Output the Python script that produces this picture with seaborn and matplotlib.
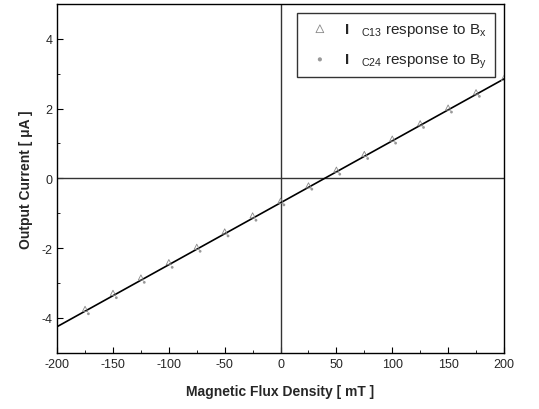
import seaborn as sns
import matplotlib.pyplot as plt
import pandas as pd
from matplotlib.ticker import MultipleLocator

# field values [mT]
field = [-175, -150, -125, -100, -75, -50, -25, 0, 25, 50, 75, 100, 125, 150, 175, 200]
# I_C13 response to Bx [uA]
i_c13 = [-3.74, -3.28, -2.84, -2.40, -1.96, -1.52, -1.06, -0.64, -0.20, 0.25, 0.70, 1.14, 1.58, 2.03, 2.47, 2.88]
# I_C24 response to By [uA]
i_c24 = [-3.88, -3.42, -2.98, -2.55, -2.09, -1.65, -1.20, -0.76, -0.31, 0.12, 0.57, 1.01, 1.46, 1.90, 2.35, 2.80]
# linear fit
fit_x = [-200, 200]
fit_y = [-4.25, 2.85]

sns.set_style("ticks")
plt.rcParams['font.family'] = ['Liberation Sans', 'DejaVu Sans']
plt.rcParams['mathtext.fontset'] = 'custom'
plt.rcParams['mathtext.rm'] = 'Liberation Sans'
plt.rcParams['mathtext.it'] = 'Liberation Sans'
plt.rcParams['mathtext.bf'] = 'Liberation Sans:bold'
plt.rcParams['axes.unicode_minus'] = False
plt.rcParams['xtick.direction'] = 'in'
plt.rcParams['ytick.direction'] = 'in'

df_x = pd.DataFrame({"B": field, "I": i_c13})
df_y = pd.DataFrame({"B": [b + 3 for b in field], "I": i_c24})
df_fit = pd.DataFrame({"B": fit_x, "I": fit_y})

fig = plt.figure(figsize=(5.39, 4.10), dpi=100)
ax = fig.add_axes([0.106, 0.137, 0.829, 0.851])

ax.axhline(0, color="#333333", lw=1.0, zorder=1)
ax.axvline(0, color="#333333", lw=1.0, zorder=1)

sns.lineplot(data=df_fit, x="B", y="I", color="black", lw=1.2, ax=ax, zorder=2)
sns.scatterplot(data=df_x, x="B", y="I", marker="^", s=14, facecolors="none",
                edgecolor="#888888", linewidth=0.6, ax=ax, zorder=3,
                label=r"$\mathbf{I}$   $_{\mathrm{C13}}$ response to B$_{\mathrm{x}}$")
sns.scatterplot(data=df_y, x="B", y="I", marker="o", s=4, color="#999999",
                edgecolor="none", ax=ax, zorder=3,
                label=r"$\mathbf{I}$   $_{\mathrm{C24}}$ response to B$_{\mathrm{y}}$")

ax.set_xlim(-200, 200)
ax.set_ylim(-5, 5)
ax.xaxis.set_major_locator(MultipleLocator(50))
ax.xaxis.set_minor_locator(MultipleLocator(25))
ax.yaxis.set_major_locator(MultipleLocator(2))
ax.yaxis.set_minor_locator(MultipleLocator(1))
ax.tick_params(which="major", length=4, labelsize=9, color="black")
ax.tick_params(which="minor", length=2.5, color="black")
for s in ax.spines.values():
    s.set_color("black")
    s.set_linewidth(1.0)

ax.set_xlabel("Magnetic Flux Density [ mT ]", fontsize=10, fontweight="bold", labelpad=10)
ax.set_ylabel("Output Current [ \u03bcA ]", fontsize=10, fontweight="bold", labelpad=6)

leg = ax.legend(loc="upper right", fontsize=11, frameon=True, fancybox=False,
                edgecolor="black", borderaxespad=0.6, handletextpad=0.6,
                markerscale=1.5, labelspacing=0.9, borderpad=0.5)
leg.get_frame().set_linewidth(1.0)

fig.savefig("out.png", dpi=100)
